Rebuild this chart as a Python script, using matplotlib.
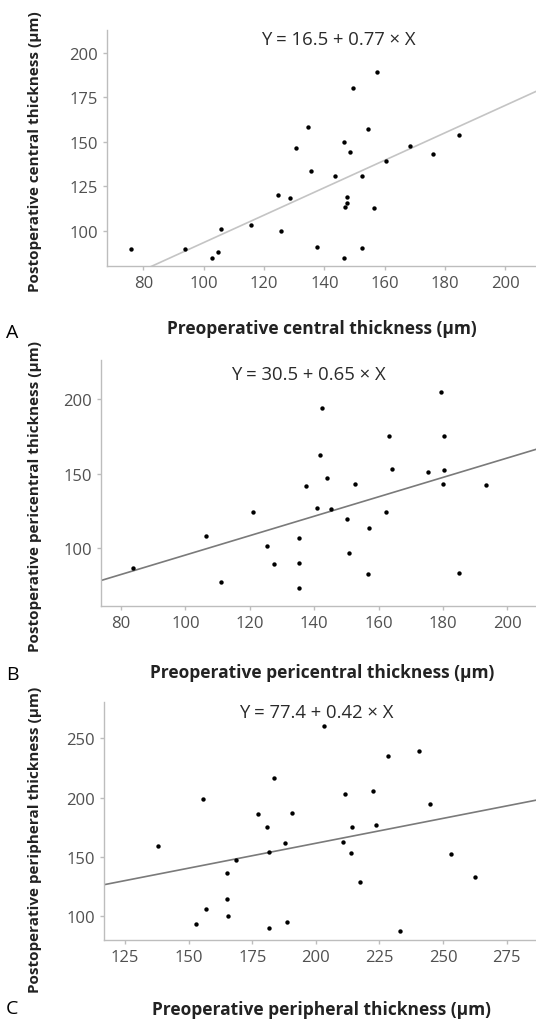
import numpy as np
import matplotlib.pyplot as plt

plt.rcParams['font.family'] = ['Open Sans', 'DejaVu Sans']

# panel A - central thickness
central_pre = [75.9, 93.9, 102.8, 104.8, 105.7, 115.8, 125.7, 124.6, 128.6, 130.6,
               134.6, 135.7, 137.7, 143.6, 146.6, 148.5, 149.6, 147.6, 147.6, 146.7,
               146.6, 152.6, 152.6, 154.6, 156.5, 157.6, 160.6, 168.5, 176.0, 184.6]
central_post = [90.1, 90.1, 85.0, 88.0, 101.1, 103.6, 100.0, 120.2, 118.5, 146.8,
                158.6, 133.7, 91.0, 131.1, 149.8, 144.2, 180.1, 119.3, 115.7, 113.5,
                84.6, 131.1, 90.6, 157.3, 112.7, 189.3, 139.3, 147.8, 143.1, 153.7]

# panel B - pericentral thickness
pericentral_pre = [83.8, 106.5, 111.0, 121.0, 125.3, 127.4, 135.3, 135.4, 135.4, 137.5,
                   140.8, 141.8, 142.3, 143.9, 145.2, 150.2, 150.8, 152.8, 156.8, 157.1,
                   162.2, 163.3, 164.1, 175.5, 179.5, 179.9, 180.4, 180.4, 185.0, 193.5]
pericentral_post = [87.1, 108.5, 77.7, 124.3, 101.3, 89.7, 107.1, 90.0, 73.4, 142.0,
                    127.2, 162.7, 194.0, 146.9, 126.3, 119.9, 96.7, 143.3, 82.6, 113.4,
                    124.6, 175.0, 153.1, 150.9, 204.5, 142.9, 175.0, 152.7, 83.7, 142.4]

# panel C - peripheral thickness
peripheral_pre = [138.1, 152.9, 155.7, 157.0, 165.0, 165.0, 165.6, 168.5, 177.2, 180.8,
                  181.4, 181.4, 183.7, 187.9, 188.8, 190.8, 203.1, 210.7, 211.6, 213.7,
                  214.3, 217.4, 222.5, 223.7, 228.5, 233.1, 240.6, 245.1, 253.0, 262.5]
peripheral_post = [159.1, 93.2, 199.0, 105.6, 136.0, 114.3, 100.3, 147.0, 186.1, 174.8,
                   154.0, 89.6, 216.5, 161.3, 94.7, 186.9, 260.1, 162.2, 203.2, 152.9,
                   174.8, 128.7, 205.2, 177.1, 235.0, 87.6, 239.5, 194.8, 152.0, 133.2]

intercepts = [16.5, 30.5, 77.4]
slopes = [0.77, 0.65, 0.42]
panel_letters = ['A', 'B', 'C']
region_names = ['central', 'pericentral', 'peripheral']
xticks_list = [[80, 100, 120, 140, 160, 180, 200],
               [80, 100, 120, 140, 160, 180, 200],
               [125, 150, 175, 200, 225, 250, 275]]
yticks_list = [[100, 125, 150, 175, 200],
               [100, 150, 200],
               [100, 150, 200, 250]]

W, H = 536, 1020
fig = plt.figure(figsize=(W / 100, H / 100), dpi=100)

# layout in pixels: left, top, right, bottom of axes, limits
layout = [
    dict(box=(107.3, 30.7, 536, 266.7), xlim=(68, 210.2), ylim=(80.5, 213),
         eq=(0.538, 0.96), xlab_y=329, ylab_y=152, letter_y=333, line_c='#c4c4c4'),
    dict(box=(100.7, 360.7, 536, 607.3), xlim=(73.7, 208.9), ylim=(61.2, 226.3),
         eq=(0.477, 0.942), xlab_y=673, ylab_y=497, letter_y=675, line_c='#7a7a7a'),
    dict(box=(104, 703.3, 536, 940.7), xlim=(116.7, 286.6), ylim=(80.0, 280.4),
         eq=(0.491, 0.96), xlab_y=1010, ylab_y=840, letter_y=1009, line_c='#7a7a7a'),
]

xs = [central_pre, pericentral_pre, peripheral_pre]
ys = [central_post, pericentral_post, peripheral_post]

for i in range(3):
    L = layout[i]
    l, t, r, b = L['box']
    ax = fig.add_axes([l / W, 1 - b / H, (r - l) / W, (b - t) / H])
    ax.set_xlim(*L['xlim'])
    ax.set_ylim(*L['ylim'])

    xx = np.array(L['xlim'])
    ax.plot(xx, intercepts[i] + slopes[i] * xx, color=L['line_c'], lw=1.2, zorder=1)
    ax.scatter(xs[i], ys[i], s=10, color='black', zorder=2, linewidths=0)

    ax.set_xticks(xticks_list[i])
    ax.set_yticks(yticks_list[i])
    for side in ['top', 'right']:
        ax.spines[side].set_visible(False)
    for side in ['left', 'bottom']:
        ax.spines[side].set_color('#bdbdbd')
        ax.spines[side].set_linewidth(1.0)
    ax.tick_params(colors='#bdbdbd', labelcolor='#505050', labelsize=12,
                   length=3, width=1)

    ax.text(L['eq'][0], L['eq'][1], f'Y = {intercepts[i]} + {slopes[i]} × X',
            transform=ax.transAxes, ha='center', va='center', fontsize=13.3,
            color='#2a2a2a')

    fig.text(322 / W, 1 - L['xlab_y'] / H,
             f'Preoperative {region_names[i]} thickness (µm)',
             ha='center', va='center', fontsize=12.5, fontweight='bold', color='#222222')
    fig.text(35 / W, 1 - L['ylab_y'] / H,
             f'Postoperative {region_names[i]} thickness (µm)',
             ha='center', va='center', rotation=90, fontsize=11,
             fontweight='bold', color='#222222')
    fig.text(12 / W, 1 - L['letter_y'] / H, panel_letters[i],
             ha='center', va='center', fontsize=14, color='black')

fig.savefig('out.png', dpi=100, facecolor='white')
